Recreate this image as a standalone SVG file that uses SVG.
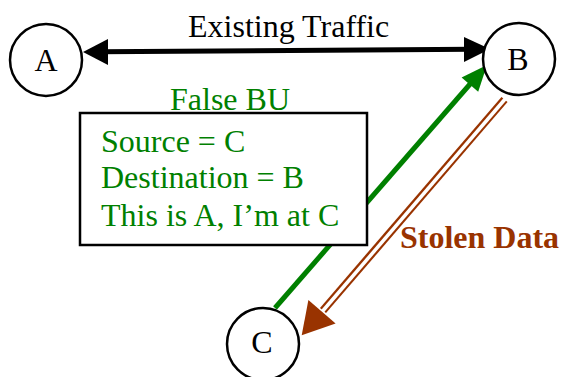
<svg xmlns="http://www.w3.org/2000/svg" width="561" height="377" viewBox="0 0 561 377">
<defs>
  <circle id="nodeShape" r="36" fill="#fff" stroke="#000" stroke-width="2.5"/>
</defs>
<rect width="561" height="377" fill="#fff"/>
<g id="connectors">
  <line x1="100" y1="51.8" x2="472" y2="49.3" stroke="#000" stroke-width="5"/>
  <polygon points="83,52 108,39 108,65" fill="#000"/>
  <polygon points="490,49 464,37 464,62" fill="#000"/>
  <line x1="275" y1="308" x2="471" y2="83" stroke="#008000" stroke-width="5"/>
  <polygon points="487,65 478.2,91.8 461.6,77.4" fill="#008000"/>
  <line x1="504.5" y1="99.5" x2="323" y2="310.5" stroke="#993300" stroke-width="8"/>
  <line x1="506" y1="98" x2="321" y2="313" stroke="#fff" stroke-width="3.5"/>
  <polygon points="301.7,335.2 335.6,323.4 308.4,300" fill="#993300"/>
</g>
<g id="node-box">
  <rect x="80" y="113" width="287" height="132" fill="#fff" stroke="#000" stroke-width="2.5"/>
  <text x="101" y="152" font-family="Liberation Serif" font-size="32" fill="#008000">Source = C</text>
  <text x="101" y="188" font-family="Liberation Serif" font-size="32" fill="#008000">Destination = B</text>
  <text x="101" y="226" font-family="Liberation Serif" font-size="32" fill="#008000">This is A, I’m at C</text>
</g>
<g id="node-A">
  <use href="#nodeShape" x="46" y="60"/>
  <text x="46" y="70.5" font-family="Liberation Serif" font-size="32" text-anchor="middle">A</text>
</g>
<g id="node-B">
  <use href="#nodeShape" x="519" y="59"/>
  <text x="518" y="70" font-family="Liberation Serif" font-size="32" text-anchor="middle">B</text>
</g>
<g id="node-C">
  <use href="#nodeShape" x="263" y="344"/>
  <text x="262" y="353" font-family="Liberation Serif" font-size="32" text-anchor="middle">C</text>
</g>
<text x="188" y="37" font-family="Liberation Serif" font-size="32" fill="#000">Existing Traffic</text>
<text x="170" y="110" font-family="Liberation Serif" font-size="32" fill="#008000">False BU</text>
<text x="400" y="248" font-family="Liberation Serif" font-size="32" font-weight="bold" fill="#993300">Stolen Data</text>
</svg>
